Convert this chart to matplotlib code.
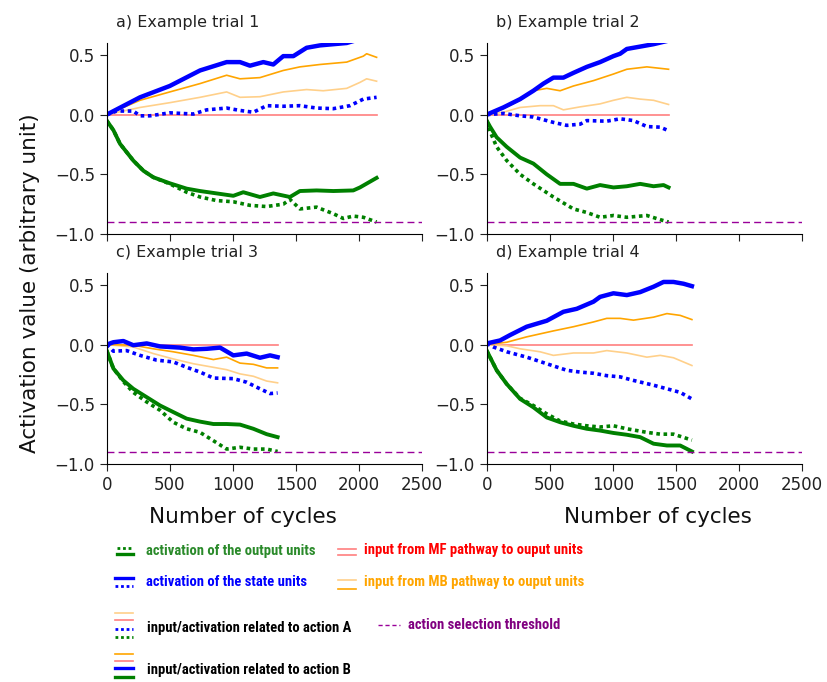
import matplotlib
matplotlib.use('Agg')
import matplotlib.pyplot as plt
from matplotlib.lines import Line2D

plt.rcParams['font.family'] = ['DejaVu Sans']

# --- trial data (cycles, activation) ---
# trial 1
t1_end = 2140
t1_state_b_x = [0, 264, 500, 740, 951, 1057, 1136, 1242, 1321, 1400, 1480, 1585, 1691, 1797, 1903, 2000, 2140]
t1_state_b_y = [0.0, 0.145, 0.24, 0.37, 0.44, 0.44, 0.41, 0.44, 0.42, 0.49, 0.49, 0.56, 0.58, 0.59, 0.60, 0.63, 0.66]
t1_state_a_x = [0, 79, 211, 264, 343, 500, 687, 793, 951, 1057, 1163, 1268, 1400, 1532, 1664, 1797, 1929, 2035, 2140]
t1_state_a_y = [0.0, 0.03, 0.03, -0.01, -0.01, 0.015, 0.005, 0.04, 0.055, 0.035, 0.02, 0.075, 0.07, 0.075, 0.055, 0.05, 0.075, 0.13, 0.145]
t1_mb_b_x = [0, 264, 500, 740, 951, 1057, 1215, 1400, 1532, 1691, 1903, 2035, 2061, 2140]
t1_mb_b_y = [0.0, 0.12, 0.19, 0.26, 0.33, 0.30, 0.31, 0.37, 0.40, 0.42, 0.44, 0.49, 0.51, 0.48]
t1_mb_a_x = [0, 264, 500, 740, 951, 1057, 1215, 1400, 1585, 1717, 1903, 2008, 2061, 2140]
t1_mb_a_y = [0.0, 0.06, 0.10, 0.145, 0.19, 0.145, 0.15, 0.19, 0.21, 0.20, 0.22, 0.27, 0.30, 0.28]
t1_out_b_x = [0, 53, 106, 211, 291, 370, 500, 634, 740, 872, 1004, 1083, 1215, 1321, 1453, 1532, 1664, 1797, 1955, 2008, 2140]
t1_out_b_y = [-0.05, -0.13, -0.245, -0.385, -0.47, -0.525, -0.575, -0.62, -0.64, -0.66, -0.68, -0.65, -0.69, -0.66, -0.69, -0.64, -0.635, -0.64, -0.635, -0.61, -0.53]
t1_out_a_x = [0, 53, 106, 211, 291, 370, 500, 634, 740, 872, 1004, 1136, 1268, 1400, 1453, 1532, 1664, 1797, 1876, 1955, 2035, 2140]
t1_out_a_y = [-0.05, -0.13, -0.245, -0.385, -0.47, -0.525, -0.58, -0.65, -0.69, -0.72, -0.73, -0.76, -0.77, -0.75, -0.71, -0.79, -0.775, -0.83, -0.87, -0.85, -0.86, -0.90]

# trial 2
t2_end = 1442
t2_state_b_x = [0, 132, 265, 370, 450, 529, 608, 688, 794, 899, 1005, 1058, 1111, 1217, 1323, 1442]
t2_state_b_y = [0.0, 0.06, 0.13, 0.20, 0.26, 0.31, 0.31, 0.35, 0.40, 0.44, 0.49, 0.51, 0.55, 0.57, 0.59, 0.62]
t2_state_a_x = [0, 132, 265, 370, 529, 635, 741, 794, 952, 1058, 1164, 1270, 1376, 1442]
t2_state_a_y = [0.0, 0.01, -0.01, -0.02, -0.065, -0.09, -0.08, -0.05, -0.055, -0.035, -0.05, -0.10, -0.105, -0.135]
t2_mb_b_x = [0, 132, 265, 370, 476, 582, 688, 847, 1005, 1111, 1270, 1442]
t2_mb_b_y = [0.0, 0.05, 0.12, 0.20, 0.22, 0.20, 0.24, 0.285, 0.34, 0.38, 0.40, 0.38]
t2_mb_a_x = [0, 132, 265, 423, 529, 608, 741, 899, 1005, 1111, 1217, 1323, 1442]
t2_mb_a_y = [0.0, 0.02, 0.06, 0.075, 0.075, 0.04, 0.065, 0.09, 0.12, 0.145, 0.13, 0.12, 0.085]
t2_out_b_x = [0, 26, 79, 159, 265, 370, 476, 582, 688, 794, 899, 1005, 1111, 1217, 1323, 1402, 1442]
t2_out_b_y = [-0.05, -0.10, -0.19, -0.27, -0.36, -0.41, -0.50, -0.58, -0.58, -0.62, -0.59, -0.61, -0.60, -0.58, -0.60, -0.59, -0.61]
t2_out_a_x = [0, 26, 79, 159, 265, 370, 529, 688, 794, 899, 1005, 1111, 1270, 1376, 1442]
t2_out_a_y = [-0.05, -0.14, -0.27, -0.385, -0.50, -0.58, -0.69, -0.79, -0.82, -0.86, -0.845, -0.86, -0.845, -0.88, -0.90]

# trial 3
t3_end = 1355
t3_state_b_x = [0, 53, 132, 211, 317, 423, 581, 687, 793, 899, 1004, 1110, 1215, 1295, 1355]
t3_state_b_y = [0.0, 0.02, 0.03, -0.005, 0.01, -0.015, -0.025, -0.04, -0.035, -0.025, -0.09, -0.075, -0.11, -0.09, -0.105]
t3_state_a_x = [0, 53, 158, 264, 396, 528, 634, 740, 846, 1004, 1110, 1215, 1295, 1355]
t3_state_a_y = [0.0, -0.055, -0.05, -0.09, -0.13, -0.145, -0.19, -0.23, -0.28, -0.285, -0.315, -0.37, -0.41, -0.405]
t3_mb_b_x = [0, 53, 211, 370, 528, 687, 846, 951, 1057, 1163, 1268, 1355]
t3_mb_b_y = [0.0, 0.0, -0.005, -0.035, -0.06, -0.09, -0.125, -0.105, -0.155, -0.165, -0.195, -0.195]
t3_mb_a_x = [0, 211, 370, 528, 687, 846, 951, 1057, 1163, 1268, 1355]
t3_mb_a_y = [0.0, -0.02, -0.075, -0.12, -0.16, -0.19, -0.21, -0.245, -0.265, -0.305, -0.32]
t3_out_b_x = [0, 53, 132, 211, 317, 423, 528, 634, 740, 846, 951, 1057, 1163, 1268, 1355]
t3_out_b_y = [-0.05, -0.20, -0.30, -0.37, -0.44, -0.51, -0.565, -0.62, -0.645, -0.665, -0.665, -0.67, -0.705, -0.75, -0.775]
t3_out_a_x = [0, 53, 132, 211, 317, 423, 528, 634, 740, 846, 951, 1057, 1163, 1268, 1355]
t3_out_a_y = [-0.05, -0.20, -0.31, -0.40, -0.48, -0.55, -0.65, -0.705, -0.735, -0.805, -0.875, -0.86, -0.875, -0.875, -0.895]

# trial 4
t4_end = 1627
t4_state_b_x = [0, 106, 185, 317, 476, 608, 714, 847, 899, 1005, 1111, 1217, 1323, 1402, 1481, 1561, 1627]
t4_state_b_y = [0.01, 0.035, 0.08, 0.15, 0.20, 0.275, 0.30, 0.36, 0.40, 0.43, 0.415, 0.44, 0.485, 0.525, 0.525, 0.51, 0.49]
t4_state_a_x = [0, 53, 159, 317, 476, 635, 741, 847, 952, 1058, 1164, 1323, 1429, 1534, 1627]
t4_state_a_y = [0.01, -0.02, -0.06, -0.105, -0.16, -0.215, -0.23, -0.24, -0.26, -0.27, -0.30, -0.34, -0.37, -0.40, -0.455]
t4_mb_b_x = [0, 159, 317, 529, 688, 847, 952, 1058, 1164, 1323, 1429, 1534, 1627]
t4_mb_b_y = [0.0, 0.02, 0.065, 0.115, 0.15, 0.19, 0.22, 0.22, 0.205, 0.23, 0.26, 0.245, 0.21]
t4_mb_a_x = [0, 159, 265, 423, 529, 688, 847, 952, 1111, 1270, 1376, 1481, 1627]
t4_mb_a_y = [0.0, -0.01, -0.035, -0.06, -0.09, -0.07, -0.07, -0.05, -0.07, -0.105, -0.09, -0.11, -0.175]
t4_out_b_x = [0, 79, 159, 265, 370, 476, 582, 688, 794, 899, 1005, 1111, 1217, 1323, 1429, 1534, 1627]
t4_out_b_y = [-0.05, -0.215, -0.33, -0.455, -0.525, -0.61, -0.65, -0.68, -0.705, -0.72, -0.74, -0.755, -0.775, -0.83, -0.845, -0.845, -0.895]
t4_out_a_x = [0, 79, 159, 265, 370, 476, 582, 688, 794, 899, 1005, 1111, 1270, 1376, 1481, 1627]
t4_out_a_y = [-0.05, -0.215, -0.33, -0.45, -0.51, -0.58, -0.64, -0.665, -0.68, -0.69, -0.68, -0.705, -0.735, -0.75, -0.75, -0.80]

threshold = -0.9
titles = ['a) Example trial 1', 'b) Example trial 2', 'c) Example trial 3', 'd) Example trial 4']

C_OUT = '#008000'
C_STATE = '#0000ff'
C_MB_B = '#ffa500'
C_MB_A = '#ffd08a'
C_MF = '#ff7f7f'
C_THR = '#990099'
DOT = (0, (1, 1))
NARROW = ['Liberation Sans Narrow', 'Roboto Condensed', 'DejaVu Sans']

trials = [
    (t1_end, t1_state_b_x, t1_state_b_y, t1_state_a_x, t1_state_a_y, t1_mb_b_x, t1_mb_b_y,
     t1_mb_a_x, t1_mb_a_y, t1_out_b_x, t1_out_b_y, t1_out_a_x, t1_out_a_y),
    (t2_end, t2_state_b_x, t2_state_b_y, t2_state_a_x, t2_state_a_y, t2_mb_b_x, t2_mb_b_y,
     t2_mb_a_x, t2_mb_a_y, t2_out_b_x, t2_out_b_y, t2_out_a_x, t2_out_a_y),
    (t3_end, t3_state_b_x, t3_state_b_y, t3_state_a_x, t3_state_a_y, t3_mb_b_x, t3_mb_b_y,
     t3_mb_a_x, t3_mb_a_y, t3_out_b_x, t3_out_b_y, t3_out_a_x, t3_out_a_y),
    (t4_end, t4_state_b_x, t4_state_b_y, t4_state_a_x, t4_state_a_y, t4_mb_b_x, t4_mb_b_y,
     t4_mb_a_x, t4_mb_a_y, t4_out_b_x, t4_out_b_y, t4_out_a_x, t4_out_a_y),
]

fig = plt.figure(figsize=(8.27, 6.82), dpi=100)
W, H = 827.0, 682.0
boxes = [(106.7, 43, 422, 234), (486.7, 43, 802, 234),
         (106.7, 273, 422, 464), (486.7, 273, 802, 464)]

for i, (box, tr) in enumerate(zip(boxes, trials)):
    x0, y0, x1, y1 = box
    ax = fig.add_axes([x0 / W, 1 - y1 / H, (x1 - x0) / W, (y1 - y0) / H])
    (end, sbx, sby, sax, say, mbbx, mbby, mbax, mbay, obx, oby, oax, oay) = tr
    ax.plot([0, end], [0, 0], color=C_MF, lw=1.2)
    ax.plot(mbax, mbay, color=C_MB_A, lw=1.2)
    ax.plot(mbbx, mbby, color=C_MB_B, lw=1.2)
    ax.plot(sax, say, color=C_STATE, lw=2.6, ls=DOT)
    ax.plot(sbx, sby, color=C_STATE, lw=3.2)
    ax.plot(oax, oay, color=C_OUT, lw=2.6, ls=DOT)
    ax.plot(obx, oby, color=C_OUT, lw=2.8)
    ax.axhline(threshold, color=C_THR, lw=1.0, ls=(0, (5, 3)))
    ax.set_xlim(0, 2500)
    ax.set_ylim(-1.0, 0.6)
    ax.set_xticks([0, 500, 1000, 1500, 2000, 2500])
    ax.set_yticks([-1.0, -0.5, 0.0, 0.5])
    ax.set_yticklabels(['\u22121.0', '\u22120.5', '0.0', '0.5'])
    if i < 2:
        ax.set_xticklabels([])
    for s in ('top', 'right'):
        ax.spines[s].set_visible(False)
    ax.tick_params(direction='out', length=5, labelsize=12, colors='#222222')
    ax.text(0.03, 1.07, titles[i], transform=ax.transAxes, fontsize=11.5,
            color='#222222', ha='left', va='bottom')

fig.text(30 / W, 1 - 283 / H, 'Activation value (arbitrary unit)', rotation=90,
         fontsize=15.5, ha='center', va='center', color='#111111')
fig.text(243 / W, 1 - 517 / H, 'Number of cycles', fontsize=15.5,
         ha='center', va='center', color='#111111')
fig.text(658 / W, 1 - 517 / H, 'Number of cycles', fontsize=15.5,
         ha='center', va='center', color='#111111')


# --- legend drawn in figure pixels ---
def seg(x0, x1, y, color, lw, ls='-'):
    fig.add_artist(Line2D([x0 / W, x1 / W], [1 - y / H, 1 - y / H],
                          color=color, lw=lw, ls=ls, transform=fig.transFigure))


def label(x, y, s, color):
    fig.text(x / W, 1 - y / H, s, fontsize=10.5, fontweight='bold', color=color,
             ha='left', va='center', family=NARROW)


seg(117, 133, 548, C_OUT, 2.0, DOT)
seg(117, 133, 554, C_OUT, 2.4)
label(146, 551, 'activation of the output units', '#2a8a2a')
seg(115, 133, 578, C_STATE, 2.4)
seg(115, 133, 586, C_STATE, 2.0, DOT)
label(146, 582, 'activation of the state units', '#0000ff')

seg(338, 356, 549, C_MF, 1.2)
seg(338, 356, 555, C_MF, 1.2)
label(364, 550, 'input from MF pathway to ouput units', '#ff0000')
seg(338, 356, 580, C_MB_A, 1.2)
seg(338, 356, 589, C_MB_B, 1.2)
label(364, 582, 'input from MB pathway to ouput units', '#ffa500')

seg(115, 133, 613, C_MB_A, 1.2)
seg(115, 133, 620, C_MF, 1.2)
seg(115, 133, 629, C_STATE, 2.0, DOT)
seg(115, 133, 637, C_OUT, 2.0, DOT)
label(147, 628, 'input/activation related to action A', '#000000')
seg(378, 400, 625, C_THR, 1.0, (0, (3, 2)))
label(408, 625, 'action selection threshold', '#800080')

seg(115, 133, 654, C_MB_B, 1.2)
seg(115, 133, 661, C_MF, 1.2)
seg(115, 133, 668, C_STATE, 2.4)
seg(115, 133, 677, C_OUT, 2.4)
label(147, 670, 'input/activation related to action B', '#000000')

fig.savefig('out.png', dpi=100)
